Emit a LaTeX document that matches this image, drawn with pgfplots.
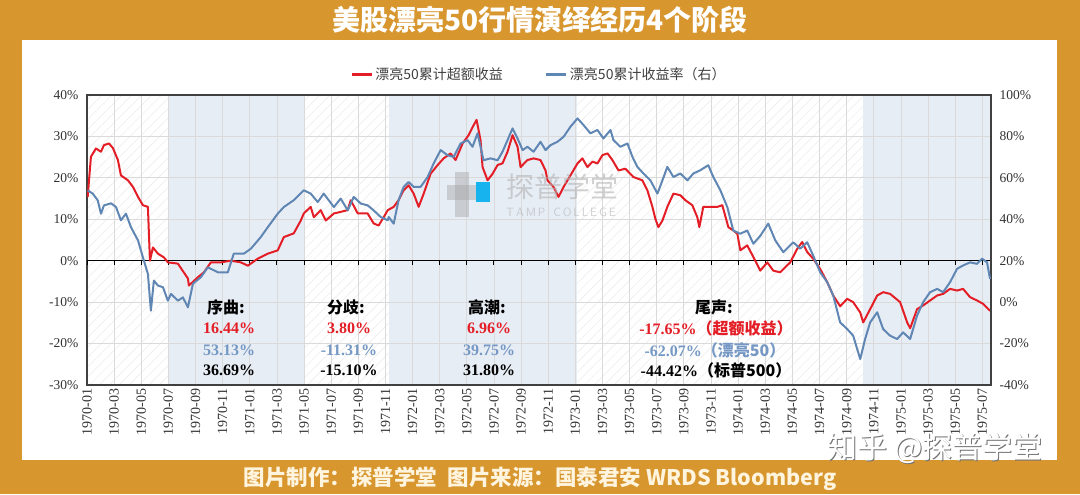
\documentclass[border=0pt]{standalone}
\usepackage{pgfplots}
\pgfplotsset{compat=1.18}
\usepackage{pgfplotstable}
\usepackage{fontspec}
\setmainfont{Liberation Serif}
\newfontfamily\cjk{Noto Sans CJK SC}
\usetikzlibrary{patterns.meta}
\definecolor{bgor}{RGB}{216,150,46}
\definecolor{redl}{RGB}{228,30,38}
\definecolor{bluel}{RGB}{96,134,180}
\definecolor{bluet}{RGB}{118,152,196}
\definecolor{phasebg}{RGB}{231,237,245}
\definecolor{gridc}{RGB}{218,218,218}
\definecolor{cream}{RGB}{255,244,222}

\pgfplotstableread{
m v
0.05 15.4
0.29 25.1
0.66 27.1
1.03 26.3
1.25 27.9
1.62 28.3
1.91 27.2
2.28 24.3
2.50 20.6
3.02 19.4
3.39 17.8
3.76 15.4
4.12 13.4
4.49 13.0
4.64 0.0
4.86 3.2
5.23 1.7
5.67 0.8
5.96 -0.4
6.70 -0.7
7.44 -4.3
7.51 -6.0
8.17 -4.0
8.62 -2.8
9.13 -0.4
9.87 -0.4
10.60 0.0
11.34 -0.4
11.86 -1.2
12.59 0.5
13.33 1.7
14.06 2.5
14.51 5.7
15.24 6.6
15.76 9.7
15.98 11.4
16.49 13.0
16.72 10.5
17.23 12.2
17.60 9.7
18.20 11.4
19.22 12.2
19.44 14.6
19.96 11.4
20.69 11.4
21.13 9.0
21.50 8.5
21.87 10.5
22.17 12.2
22.61 13.0
22.97 14.6
23.34 17.0
23.71 18.2
24.08 16.2
24.45 13.0
24.82 16.2
25.33 21.0
25.85 23.1
26.29 24.7
26.80 25.9
27.17 24.3
27.69 28.3
28.13 30.3
28.50 32.7
28.72 34.0
29.01 29.1
29.16 22.6
29.53 19.4
29.90 21.0
30.27 23.1
30.63 23.5
31.00 26.3
31.37 30.3
31.74 27.5
31.96 22.6
32.47 24.3
32.92 24.7
33.43 24.3
33.80 21.8
33.95 19.4
34.39 17.8
34.76 15.4
35.13 17.8
35.64 20.6
36.16 23.5
36.52 24.7
36.89 22.6
37.26 23.9
37.63 23.5
38.00 25.5
38.37 25.9
38.73 24.3
39.18 21.8
39.69 22.2
40.28 20.2
40.94 19.4
41.31 17.0
41.68 13.0
41.90 10.1
42.12 8.1
42.42 9.7
42.78 13.0
43.23 16.2
43.74 15.8
44.11 14.6
44.62 13.4
44.99 10.5
45.14 8.1
45.43 13.0
45.95 13.0
46.47 13.0
46.83 13.4
47.28 8.1
47.64 7.3
47.94 6.5
48.16 2.5
48.67 3.7
49.12 0.9
49.63 -2.4
50.15 -0.4
50.59 -2.4
51.10 -2.8
51.84 -0.4
52.36 2.9
52.72 4.5
53.09 2.1
53.53 0.5
54.05 -2.0
54.57 -5.2
55.01 -8.4
55.52 -11.0
56.04 -9.2
56.48 -10.0
57.00 -12.5
57.22 -14.9
57.73 -11.7
58.25 -8.4
58.69 -7.6
59.20 -8.0
59.94 -10.0
60.46 -14.9
60.68 -16.3
61.19 -11.7
61.64 -10.8
62.15 -9.6
62.67 -8.4
63.11 -8.0
63.62 -6.8
64.14 -7.2
64.58 -6.8
65.10 -8.8
65.61 -9.6
66.05 -10.4
66.57 -12.1
}\redtab

\pgfplotstableread{
m v
0.05 54.0
0.42 52.4
0.79 49.2
1.03 42.7
1.25 46.7
1.77 47.7
2.14 45.9
2.50 39.5
2.87 42.7
3.24 36.2
3.76 29.8
4.12 21.7
4.49 13.6
4.71 -4.1
4.93 10.4
5.23 8.0
5.60 7.2
5.96 0.7
6.19 4.0
6.70 0.7
7.07 2.3
7.44 -2.5
7.81 8.9
8.39 12.0
8.91 16.8
9.65 14.4
10.38 14.4
10.82 23.4
11.56 23.4
12.08 25.8
12.81 31.4
13.33 36.2
14.06 42.7
14.51 45.9
15.24 49.2
15.98 54.0
16.49 52.4
17.01 48.3
17.45 52.4
18.20 45.9
18.70 50.0
19.22 44.3
19.66 50.8
20.18 47.6
20.69 46.7
21.13 44.3
21.65 41.1
22.17 39.5
22.24 41.1
22.61 37.9
22.97 49.2
23.34 55.6
23.71 58.0
24.08 55.6
24.59 55.6
25.11 60.4
25.55 66.9
26.07 73.4
26.58 70.9
27.03 70.1
27.54 76.6
28.06 78.2
28.42 75.0
28.79 81.5
29.01 75.0
29.23 68.5
29.75 69.4
30.27 68.5
30.63 72.6
31.00 78.2
31.37 83.9
31.74 79.0
32.11 73.4
32.47 75.0
32.92 72.6
33.43 77.4
33.80 73.4
34.17 75.8
34.68 77.4
35.13 79.8
35.64 84.7
36.16 88.7
36.60 85.5
37.11 81.5
37.63 83.1
38.07 79.0
38.59 83.1
38.81 78.2
39.32 75.0
39.84 76.6
40.21 70.1
40.57 65.3
41.02 62.1
41.53 58.8
42.05 52.4
42.42 58.8
42.78 65.3
43.23 60.4
43.74 62.1
44.26 58.8
44.70 62.1
45.22 63.7
45.80 66.1
46.17 60.4
46.69 54.0
47.20 45.9
47.64 34.6
48.16 33.0
48.67 34.6
49.12 28.2
49.63 32.0
50.22 37.9
50.74 29.8
51.33 24.1
52.06 28.9
52.58 25.8
53.09 28.9
53.53 22.5
54.05 14.4
54.57 9.6
55.01 3.2
55.52 -9.8
56.04 -13.0
56.48 -16.2
57.00 -27.5
57.36 -17.8
57.73 -9.8
58.25 -4.9
58.69 -13.0
59.20 -16.2
59.72 -17.8
60.16 -14.6
60.68 -17.8
61.19 -6.5
61.64 0.0
62.15 4.8
62.67 6.4
63.11 4.8
63.62 9.6
64.14 16.1
64.58 17.7
65.10 19.2
65.61 18.5
65.98 21.0
66.35 19.2
66.57 11.2
}\bluetab

\begin{document}
\begin{tikzpicture}[x=1pt,y=1pt]
\fill[bgor] (0,0) rectangle (1080,494);
\fill[white] (22,34) rectangle (1057,454);
\node[text=white, font=\cjk\bfseries\fontsize{28}{30}\selectfont] at (540,474) {美股漂亮50行情演绎经历4个阶段};
\node[text=cream, font=\cjk\bfseries\fontsize{21.5}{24}\selectfont] at (540,15) {图片制作：探普学堂\enspace 图片来源：国泰君安 WRDS Bloomberg};

% background of the plot area
\begin{axis}[
  at={(87pt,109pt)}, anchor=south west,
  width=904pt, height=290pt, scale only axis,
  xmin=0, xmax=66.64, ymin=-30, ymax=40,
  hide axis, clip=false,
]
\fill[white] (axis cs:0,-30) rectangle (axis cs:66.64,40);
\fill[pattern={Lines[angle=45,distance=7pt,line width=0.5pt]}, pattern color=black!8] (axis cs:0,-30) rectangle (axis cs:66.64,40);
\fill[phasebg] (axis cs:6.0,-30) rectangle (axis cs:16.0,40);
\fill[phasebg] (axis cs:22.25,-30) rectangle (axis cs:36.15,40);
\fill[phasebg] (axis cs:57.2,-30) rectangle (axis cs:66.64,40);
\end{axis}

\begin{axis}[
  at={(87pt,109pt)}, anchor=south west,
  width=904pt, height=290pt, scale only axis,
  xmin=0, xmax=66.64, ymin=-30, ymax=40,
  xtick={0,2,...,66},
  xticklabels={1970-01,1970-03,1970-05,1970-07,1970-09,1970-11,1971-01,1971-03,1971-05,1971-07,1971-09,1971-11,1972-01,1972-03,1972-05,1972-07,1972-09,1972-11,1973-01,1973-03,1973-05,1973-07,1973-09,1973-11,1974-01,1974-03,1974-05,1974-07,1974-09,1974-11,1975-01,1975-03,1975-05,1975-07},
  ytick={-30,-20,...,40},
  yticklabels={-30\%,-20\%,-10\%,0\%,10\%,20\%,30\%,40\%},
  xmajorgrids, ymajorgrids,
  grid style={gridc, line width=0.8pt},
  major tick length=0pt,
  axis line style={draw=black!75, line width=1.2pt},
  tick label style={font=\fontsize{13.5}{15}\selectfont, text=black!80},
  x tick label style={rotate=90, anchor=east, font=\fontsize{14}{16}\selectfont},
  yticklabel style={xshift=-5pt},
  extra y ticks={0}, extra y tick labels={},
  extra y tick style={grid style={black, line width=1.4pt}},
  legend style={at={(0.5,1)}, anchor=south, yshift=10pt, draw=none, fill=none,
    font=\cjk\fontsize{14}{16}\selectfont, text=black!75},
  legend columns=2,
  legend cell align=left,
  /tikz/every even column/.append style={column sep=40pt},
  legend image code/.code={\draw[#1, line width=3pt] (0pt,0pt) -- (20pt,0pt);},
]
\pgfplotsinvokeforeach{0,2,...,66}{\draw[black, line width=1pt] (axis cs:#1,0) -- ([yshift=-4pt]axis cs:#1,0);}
\addplot[redl, line width=2pt, line join=round] table[x=m, y=v] {\redtab};
\addlegendentry{漂亮50累计超额收益}
\addlegendimage{bluel, line width=2pt}
\addlegendentry{漂亮50累计收益率（右）}
\end{axis}

\begin{axis}[
  at={(87pt,109pt)}, anchor=south west,
  width=904pt, height=290pt, scale only axis,
  xmin=0, xmax=66.64, ymin=-40, ymax=100,
  axis x line=none, axis y line*=right,
  ytick={-40,-20,...,100},
  yticklabels={-40\%,-20\%,0\%,20\%,40\%,60\%,80\%,100\%},
  major tick length=0pt,
  axis line style={draw=black!75, line width=1.2pt},
  tick label style={font=\fontsize{13.5}{15}\selectfont, text=black!80},
  yticklabel style={xshift=5pt},
]
\addplot[bluel, line width=2pt, line join=round] table[x=m, y=v] {\bluetab};
\end{axis}

% annotations
\begin{scope}[font=\bfseries\fontsize{16}{18}\selectfont]
\node[font=\cjk\bfseries\fontsize{16}{18}\selectfont] at (226,187) {序曲:};
\node[text=redl] at (229,166) {16.44\%};
\node[text=bluet] at (229,144) {53.13\%};
\node[text=black] at (229,124) {36.69\%};

\node[font=\cjk\bfseries\fontsize{16}{18}\selectfont] at (346,187) {分歧:};
\node[text=redl] at (349,166) {3.80\%};
\node[text=bluet] at (349,144) {-11.31\%};
\node[text=black] at (349,124) {-15.10\%};

\node[font=\cjk\bfseries\fontsize{16}{18}\selectfont] at (487,187) {高潮:};
\node[text=redl] at (489,166) {6.96\%};
\node[text=bluet] at (489,144) {39.75\%};
\node[text=black] at (489,124) {31.80\%};

\node[font=\cjk\bfseries\fontsize{16}{18}\selectfont] at (714,187) {尾声:};
\node[text=redl] at (716,166) {-17.65\%{\cjk\bfseries（超额收益）}};
\node[text=bluet] at (715,144) {-62.07\%{\cjk\bfseries（漂亮50）}};
\node[text=black] at (716,124) {-44.42\%{\cjk\bfseries（标普500）}};
\end{scope}

% watermarks
\fill[black!35, opacity=0.45] (455,277) rectangle (469,322);
\fill[black!35, opacity=0.45] (447,294) rectangle (476,309);
\fill[cyan, opacity=0.9] (476,292) rectangle (490,312);
\node[text=black!30, opacity=0.6, font=\cjk\fontsize{28}{30}\selectfont] at (562,307) {探普学堂};
\node[text=black!30, opacity=0.6, font=\sffamily\fontsize{12}{14}\selectfont] at (561,282) {T\,A\,M\,P\ \ C\,O\,L\,L\,E\,G\,E};
\node[text=black!55, font=\cjk\fontsize{30}{32}\selectfont] at (936,45) {知乎 @探普学堂};
\node[text=white, font=\cjk\fontsize{30}{32}\selectfont] at (935,46) {知乎 @探普学堂};
\end{tikzpicture}
\end{document}
